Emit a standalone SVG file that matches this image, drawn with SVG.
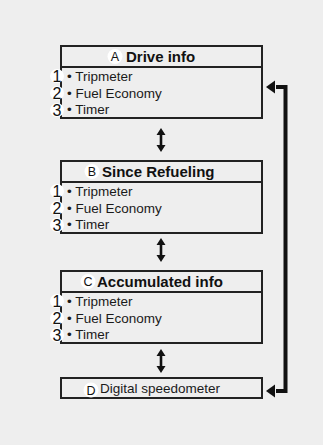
<svg xmlns="http://www.w3.org/2000/svg" width="323" height="445" viewBox="0 0 323 445">
<defs>
<style>
.box{fill:#eeeeee;stroke:#222;stroke-width:2}
.div{stroke:#222;stroke-width:2}
.hdr{font-family:"Liberation Sans",Arial,sans-serif;font-weight:bold;font-size:15px;fill:#111}
.item{font-family:"Liberation Sans",Arial,sans-serif;font-size:13.5px;fill:#1a1a1a}
.lt{font-family:"Liberation Sans",Arial,sans-serif;font-size:12.5px;fill:#111;text-anchor:middle}
.num{font-family:"Liberation Sans",Arial,sans-serif;font-size:16px;fill:#111;text-anchor:middle}
.circ{fill:#fff}
.dbl{fill:#111}
.loop{stroke:#111;stroke-width:4;fill:none;stroke-linejoin:miter}
</style>
<path id="dblarrow" d="M0,-12 L4.5,-5 L1.3,-5 L1.3,5 L4.5,5 L0,12 L-4.5,5 L-1.3,5 L-1.3,-5 L-4.5,-5 z"/>
</defs>
<rect width="323" height="445" fill="#eeeeee"/>

<g id="nodeA">
<rect class="box" x="61" y="46" width="201" height="72"/>
<line class="div" x1="61" y1="67" x2="262" y2="67"/>
<circle class="circ" cx="115" cy="56.5" r="7.5"/>
<text class="lt" x="115" y="61">A</text>
<text class="hdr" x="126" y="61.5">Drive info</text>
<circle class="circ" cx="57" cy="76" r="7"/>
<text class="num" x="57" y="81.5">1</text>
<text class="item" x="67" y="80.5">• Tripmeter</text>
<circle class="circ" cx="57" cy="93" r="7"/>
<text class="num" x="57" y="98.5">2</text>
<text class="item" x="67" y="97.5">• Fuel Economy</text>
<circle class="circ" cx="57" cy="110" r="7"/>
<text class="num" x="57" y="115.5">3</text>
<text class="item" x="67" y="114">• Timer</text>
</g>

<g id="nodeB">
<rect class="box" x="61" y="161" width="201" height="72"/>
<line class="div" x1="61" y1="182" x2="262" y2="182"/>
<circle class="circ" cx="92" cy="171.5" r="7.5"/>
<text class="lt" x="92" y="176">B</text>
<text class="hdr" x="102" y="176.5">Since Refueling</text>
<circle class="circ" cx="57" cy="191" r="7"/>
<text class="num" x="57" y="196.5">1</text>
<text class="item" x="67" y="195.5">• Tripmeter</text>
<circle class="circ" cx="57" cy="208" r="7"/>
<text class="num" x="57" y="213.5">2</text>
<text class="item" x="67" y="212.5">• Fuel Economy</text>
<circle class="circ" cx="57" cy="225" r="7"/>
<text class="num" x="57" y="230.5">3</text>
<text class="item" x="67" y="229">• Timer</text>
</g>

<g id="nodeC">
<rect class="box" x="61" y="271" width="201" height="72"/>
<line class="div" x1="61" y1="292" x2="262" y2="292"/>
<circle class="circ" cx="88" cy="281.5" r="7.5"/>
<text class="lt" x="88" y="286">C</text>
<text class="hdr" x="97" y="286.5">Accumulated info</text>
<circle class="circ" cx="57" cy="301" r="7"/>
<text class="num" x="57" y="306.5">1</text>
<text class="item" x="67" y="305.5">• Tripmeter</text>
<circle class="circ" cx="57" cy="318" r="7"/>
<text class="num" x="57" y="323.5">2</text>
<text class="item" x="67" y="322.5">• Fuel Economy</text>
<circle class="circ" cx="57" cy="335" r="7"/>
<text class="num" x="57" y="340.5">3</text>
<text class="item" x="67" y="339">• Timer</text>
</g>

<g id="nodeD">
<rect class="box" x="61" y="378" width="201" height="20"/>
<circle class="circ" cx="91" cy="390" r="7.5"/>
<text class="lt" x="91" y="394.5">D</text>
<text class="item" x="100" y="393">Digital speedometer</text>
</g>

<g id="connectors">
<use href="#dblarrow" class="dbl" x="161" y="140"/>
<use href="#dblarrow" class="dbl" x="161" y="250"/>
<use href="#dblarrow" class="dbl" x="161" y="361"/>
<polyline class="loop" points="276,87 285.5,87 285.5,391 276,391"/>
<path d="M266,87 L275,80.5 L275,93.5 z" fill="#111"/>
<path d="M266,391 L275,384.5 L275,397.5 z" fill="#111"/>
</g>
</svg>
